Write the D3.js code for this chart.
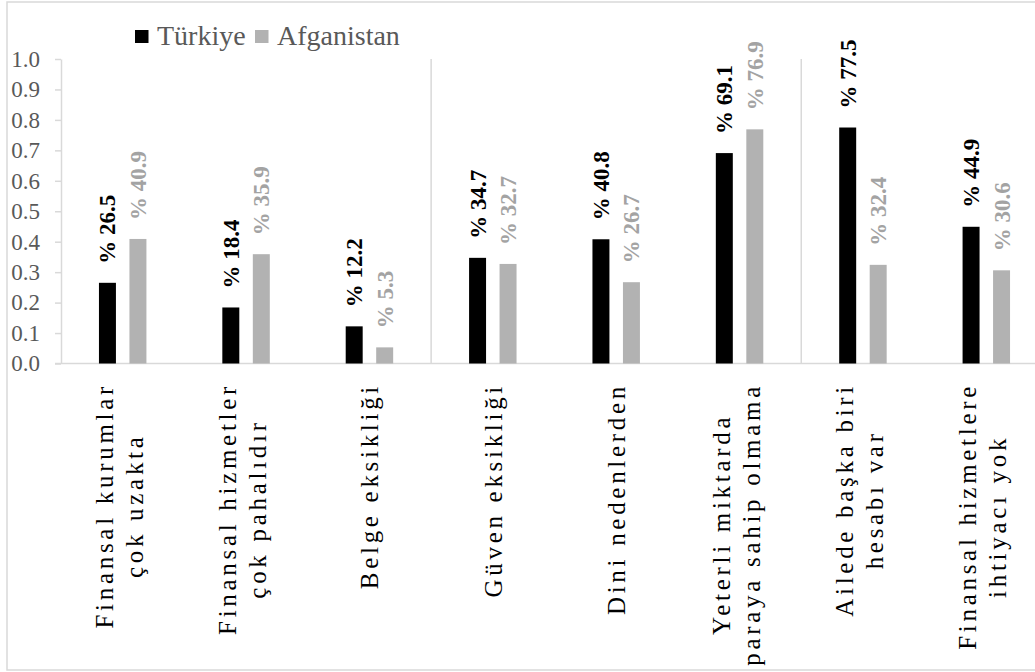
<!DOCTYPE html>
<html>
<head>
<meta charset="utf-8">
<script src="https://cdn.jsdelivr.net/npm/d3@7"></script>
<style>
  html, body { margin: 0; padding: 0; background: #fff; }
  svg { display: block; }
  svg text { font-family: "Liberation Serif", "Times New Roman", Tinos, Times, "DejaVu Serif", serif; }
</style>
</head>
<body>
<svg id="chart" width="1035" height="672"></svg>
<script>
// Reasons for not having an account, by country (share of respondents)
const categories = [
  "Finansal kurumlar çok uzakta",
  "Finansal hizmetler çok pahalıdır",
  "Belge eksikliği",
  "Güven eksikliği",
  "Dini nedenlerden",
  "Yeterli miktarda paraya sahip olmama",
  "Ailede başka biri hesabı var",
  "Finansal hizmetlere ihtiyacı yok"
];
// Axis label line breaks for each category
const categoryLines = [
  ["Finansal kurumlar", "çok uzakta"],
  ["Finansal hizmetler", "çok pahalıdır"],
  ["Belge eksikliği"],
  ["Güven eksikliği"],
  ["Dini nedenlerden"],
  ["Yeterli miktarda", "paraya sahip olmama"],
  ["Ailede başka biri", "hesabı var"],
  ["Finansal hizmetlere", "ihtiyacı yok"]
];
const seriesNames = ["Türkiye", "Afganistan"];
const turkiye    = [26.5, 18.4, 12.2, 34.7, 40.8, 69.1, 77.5, 44.9];
const afganistan = [40.9, 35.9, 5.3, 32.7, 26.7, 76.9, 32.4, 30.6];
const yTicks = [0, 0.1, 0.2, 0.3, 0.4, 0.5, 0.6, 0.7, 0.8, 0.9, 1.0];
// Group dividers are drawn before these categories
const dividersBefore = ["Güven eksikliği", "Ailede başka biri hesabı var"];

const seriesValues = [turkiye, afganistan];
const barColors = ["#000000", "#b2b2b2"];
const labelColors = ["#000000", "#a3a3a3"];
const axisColor = "#d9d9d9";

const svg = d3.select("#chart");

// outer frame
svg.append("rect")
  .attr("x", 7).attr("y", 2)
  .attr("width", 1120).attr("height", 668)
  .attr("fill", "#fff")
  .attr("stroke", axisColor).attr("stroke-width", 1.5);

const plotLeft = 61, plotRight = 1048, plotTop = 59, plotBottom = 363.5;

const x = d3.scaleBand().domain(categories).range([plotLeft, plotRight]).padding(0);
const xs = d3.scaleBand().domain(seriesNames).range([0, x.bandwidth()])
  .paddingInner(0.443).paddingOuter(1.245);
const y = d3.scaleLinear().domain([0, 1]).range([plotBottom, plotTop]);

// group dividers
svg.append("g").selectAll("line")
  .data(dividersBefore)
  .join("line")
  .attr("x1", d => x(d)).attr("x2", d => x(d))
  .attr("y1", y(1)).attr("y2", y(0))
  .attr("stroke", axisColor).attr("stroke-width", 1.5);

// y axis
const yAxis = svg.append("g")
  .attr("transform", `translate(${plotLeft},0)`)
  .call(d3.axisLeft(y).tickValues(yTicks).tickFormat(d3.format(".1f"))
    .tickSize(6).tickSizeOuter(0).tickPadding(15));
yAxis.attr("font-family", null).attr("font-size", null);
yAxis.select(".domain").attr("stroke", axisColor).attr("stroke-width", 1.5);
yAxis.selectAll(".tick line").attr("stroke", axisColor).attr("stroke-width", 1.5);
yAxis.selectAll(".tick text")
  .attr("fill", "#595959")
  .style("font-size", "23px");

// x axis baseline
svg.append("line")
  .attr("x1", plotLeft - 6).attr("x2", plotRight)
  .attr("y1", y(0)).attr("y2", y(0))
  .attr("stroke", axisColor).attr("stroke-width", 1.5);

// bars and value labels
seriesNames.forEach((name, si) => {
  const g = svg.append("g");
  const rows = categories.map((c, i) => ({ c, v: seriesValues[si][i] }));
  g.selectAll("rect")
    .data(rows)
    .join("rect")
    .attr("x", d => x(d.c) + xs(name))
    .attr("width", xs.bandwidth())
    .attr("y", d => y(d.v / 100))
    .attr("height", d => y(0) - y(d.v / 100))
    .attr("fill", barColors[si]);
  g.selectAll("text")
    .data(rows)
    .join("text")
    .attr("transform", d =>
      `translate(${x(d.c) + xs(name) + xs.bandwidth() / 2 + 8},${y(d.v / 100) - 19}) rotate(-90)`)
    .attr("text-anchor", "start")
    .attr("fill", labelColors[si])
    .style("font-size", "23px")
    .style("font-weight", "bold")
    .text(d => "% " + d.v.toFixed(1));
});

// category labels, rotated, top-aligned under the axis, lines centred
const labelTop = 383, lineHeight = 30;
categories.forEach((c, i) => {
  const lines = categoryLines[i];
  const n = lines.length;
  const cx = x(c) + x.bandwidth() / 2;
  const g = svg.append("g").attr("transform", `translate(${cx},${labelTop}) rotate(-90)`);
  const texts = lines.map((ln, li) => g.append("text")
    .attr("y", (li - (n - 1) / 2) * lineHeight + 9 - 4 * (n - 1))
    .attr("text-anchor", "middle")
    .attr("fill", "#000")
    .style("font-size", "25px")
    .style("letter-spacing", "3.7px")
    .text(ln));
  const maxLen = d3.max(texts, t => t.node().getComputedTextLength());
  texts.forEach(t => t.attr("x", -maxLen / 2));
});

// legend
const legend = svg.append("g").attr("transform", "translate(135,30)");
const legendX = [0, 120];
seriesNames.forEach((name, si) => {
  const lg = legend.append("g").attr("transform", `translate(${legendX[si]},0)`);
  lg.append("rect").attr("width", 13.5).attr("height", 13).attr("fill", barColors[si]);
  lg.append("text")
    .attr("x", 22).attr("y", 15)
    .attr("fill", "#595959")
    .style("font-size", "28px")
    .text(name);
});
</script>
</body>
</html>
